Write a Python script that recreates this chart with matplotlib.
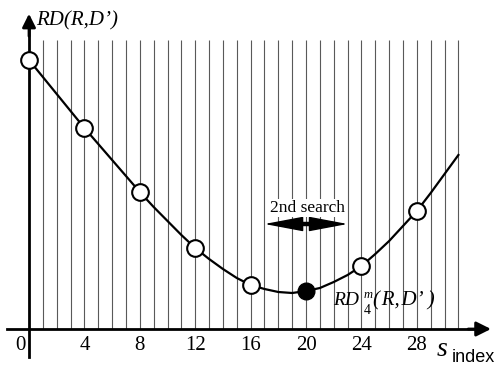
import matplotlib
matplotlib.use("Agg")
import matplotlib.pyplot as plt
from matplotlib.patches import FancyArrowPatch

# RD(R,D') at every s index (arbitrary units)
s_index = list(range(32))
rd_curve = [269, 252, 235, 218, 201, 185, 169, 153, 137, 122, 108, 94, 81, 70, 60, 51,
            44, 40, 37, 36, 38, 41, 47, 54, 63, 75, 88, 103, 118, 136, 155, 174]
search_idx = [0, 4, 8, 12, 16, 20, 24, 28]
rd_search = [269, 201, 137, 81, 44, 38, 63, 118]
best_idx = 20
best_rd = 38
tick_labels = ["0", "4", "8", "12", "16", "20", "24", "28"]
second_search = (17, 23)

serif = ["Liberation Serif", "DejaVu Serif"]

fig = plt.figure(figsize=(4.94, 3.67), dpi=100)
ax = fig.add_axes([0, 0, 1, 1])
ax.set_xlim(-2.094, 33.57)
ax.set_ylim(-38, 329)
ax.axis("off")

# vertical grid lines at each index
ax.vlines(s_index[1:], 0, 289, colors="0.35", lw=0.8, zorder=1)

# axes with arrows
ax.plot([-1.6, 32.6], [0, 0], color="black", lw=2, zorder=2)
ax.add_patch(FancyArrowPatch((31.5, 0), (33.55, 0), arrowstyle="-|>", mutation_scale=22,
                             color="black", lw=2, zorder=3))
ax.plot([0, 0], [-28, 300], color="black", lw=2, zorder=2)
ax.add_patch(FancyArrowPatch((0, 290), (0, 318), arrowstyle="-|>", mutation_scale=20,
                             color="black", lw=2, zorder=3))

# curve and markers
ax.plot(s_index, rd_curve, color="black", lw=1.6, zorder=4)
ax.plot(search_idx[:5] + search_idx[6:], rd_search[:5] + rd_search[6:], "o", ms=12,
        mfc="white", mec="black", mew=1.5, zorder=5)
ax.plot([best_idx], [best_rd], "o", ms=12, mfc="black", mec="black", zorder=5)

# tick labels
for i, lab in zip(search_idx, tick_labels):
    x = -0.65 if i == 0 else i
    ax.text(x, -17, lab, ha="center", va="center", fontsize=15, family=serif)

# axis labels
ax.text(0.5, 304, "RD(R,D’)", fontsize=15, family=serif, style="italic",
        ha="left", va="baseline")
ax.text(29.4, -27, "s", fontsize=20, family=serif, style="italic", ha="left", va="baseline")
ax.text(30.55, -33, "index", fontsize=13, family="Liberation Sans", ha="left", va="baseline")

# second search arrow: shaft plus two heads
mid = (second_search[0] + second_search[1]) / 2
ax.plot([second_search[0] + 1, second_search[1] - 1], [105, 105], color="black", lw=3.2,
        solid_capstyle="butt", zorder=6)
for end in second_search:
    ax.add_patch(FancyArrowPatch((mid, 105), (end, 105),
                                 arrowstyle="-|>,head_length=0.45,head_width=0.085",
                                 mutation_scale=55, color="black", lw=1, zorder=6,
                                 shrinkA=0, shrinkB=0))
ax.text(20.1, 121, "2nd search", fontsize=12.5, family=serif, ha="center", va="center",
        zorder=6, bbox=dict(fc="white", ec="none", pad=1))

# minimum label
ax.text(21.95, 24, "RD", fontsize=14, family=serif, style="italic", ha="left", va="baseline")
ax.text(24.45, 34, "m", fontsize=9, family=serif, style="italic", ha="center", va="center")
ax.text(24.45, 19, "4", fontsize=10, family=serif, ha="center", va="center")
ax.text(24.85, 24, "(\u200aR,\u200aD’\u2009)", fontsize=15, family=serif, style="italic",
        ha="left", va="baseline")

fig.savefig("out.png", dpi=100)
